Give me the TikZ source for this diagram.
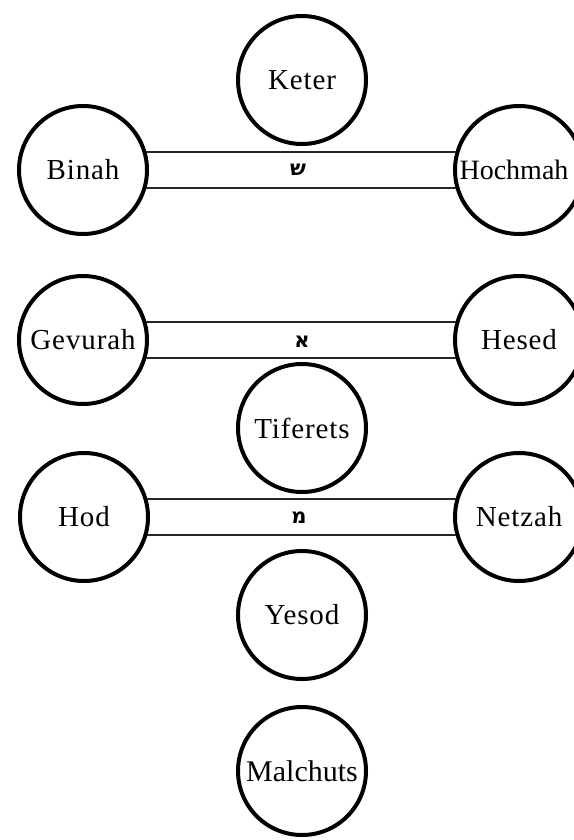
\documentclass[tikz,border=0pt]{standalone}
\usepackage{fontspec}
\setmainfont{Liberation Serif}[LetterSpace=3]
\newfontfamily\tightfont{Liberation Serif}
\newfontfamily\hebfont[Script=Hebrew]{DejaVu Sans}
\TeXXeTstate=1
\begin{document}
\begin{tikzpicture}[x=1pt,y=-1pt,
  sefira/.style={circle,draw=black,line width=4pt,minimum size=128pt,inner sep=0pt,
    font=\fontsize{29}{32}\selectfont},
  tight/.style={font=\tightfont\fontsize{28}{32}\selectfont},
  wide/.style={font=\tightfont\fontsize{30}{32}\selectfont},
  path/.style={draw=black!85,line width=1.6pt},
  letter/.style={inner sep=0pt,font=\hebfont\bfseries\fontsize{21}{22}\selectfont}]
\useasboundingbox (0,0) rectangle (573,840);
\node[sefira] (keter) at (302,80) {Keter};
\node[sefira] (binah) at (83,170) {Binah};
\node[sefira,tight] (hochmah) at (519,170) {Hochmah\hspace*{10pt}};
\node[sefira] (gevurah) at (83,340) {Gevurah};
\node[sefira] (hesed) at (519,340) {Hesed};
\node[sefira] (tiferets) at (302,428) {Tiferets};
\node[sefira] (hod) at (84,517) {Hod};
\node[sefira] (netzah) at (519,517) {Netzah};
\node[sefira] (yesod) at (302,615) {Yesod};
\node[sefira,wide] (malchuts) at (302,771) {Malchuts};
% horizontal paths
\draw[path] (binah.16) -- (hochmah.164);
\draw[path] (binah.-16) -- (hochmah.-164);
\draw[path] (gevurah.16) -- (hesed.164);
\draw[path] (gevurah.-16) -- (hesed.-164);
\draw[path] (hod.16) -- (netzah.164);
\draw[path] (hod.-16) -- (netzah.-164);
\node[letter] (shin) at (298,170) {\beginR ש\endR};
\node[letter] (aleph) at (302,342) {\beginR א\endR};
\node[letter] (mem) at (299,518) {\beginR מ\endR};
\end{tikzpicture}
\end{document}
